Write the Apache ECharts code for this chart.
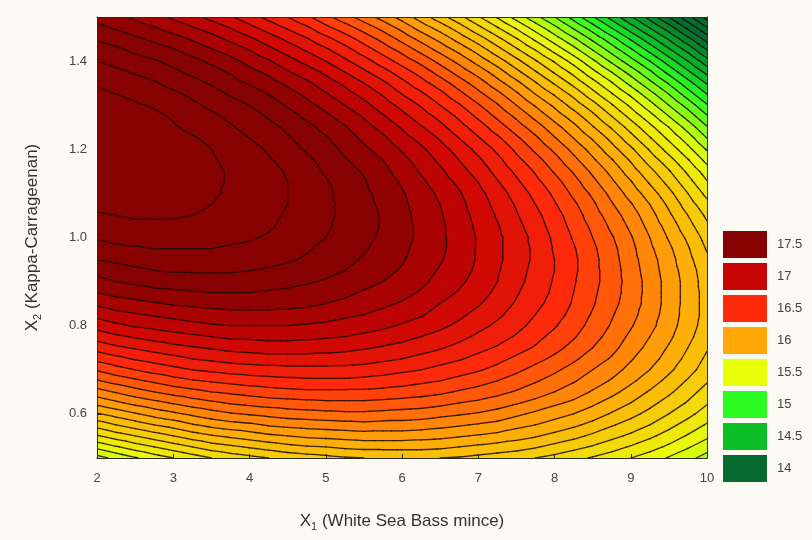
<!DOCTYPE html>
<html>
<head>
<meta charset="utf-8">
<title>Contour plot</title>
<script src="https://cdn.jsdelivr.net/npm/echarts@6/dist/echarts.min.js"></script>
<style>
  html, body { margin: 0; padding: 0; background: #fcfaf2; }
  #chart { width: 812px; height: 540px; }
</style>
</head>
<body>
<div id="chart"></div>
<script>
const xValues = [2, 2.25, 2.5, 2.75, 3, 3.25, 3.5, 3.75, 4, 4.25, 4.5, 4.75, 5, 5.25, 5.5, 5.75, 6,
  6.25, 6.5, 6.75, 7, 7.25, 7.5, 7.75, 8, 8.25, 8.5, 8.75, 9, 9.25, 9.5, 9.75, 10]
const yValues = [0.5, 0.525, 0.55, 0.575, 0.6, 0.625, 0.65, 0.675, 0.7, 0.725, 0.75, 0.775, 0.8, 0.825,
  0.85, 0.875, 0.9, 0.925, 0.95, 0.975, 1.0, 1.025, 1.05, 1.075, 1.1, 1.125, 1.15, 1.175, 1.2, 1.225,
  1.25, 1.275, 1.3, 1.325, 1.35, 1.375, 1.4, 1.425, 1.45, 1.475, 1.5]
// one row per y value (bottom to top), one column per x value
const response = [
  [15.46, 15.53, 15.59, 15.65, 15.70, 15.75, 15.80, 15.84, 15.87, 15.90, 15.93, 15.95, 15.97, 15.99, 16.00, 16.01, 16.01, 16.01, 16.00, 15.99, 15.97, 15.95, 15.93, 15.90, 15.87, 15.83, 15.79, 15.75, 15.70, 15.65, 15.59, 15.53, 15.46],
  [15.63, 15.69, 15.75, 15.80, 15.85, 15.90, 15.95, 15.98, 16.01, 16.04, 16.07, 16.09, 16.10, 16.12, 16.13, 16.13, 16.13, 16.13, 16.12, 16.10, 16.08, 16.06, 16.04, 16.01, 15.97, 15.93, 15.89, 15.84, 15.79, 15.74, 15.68, 15.61, 15.54],
  [15.79, 15.85, 15.90, 15.95, 16.00, 16.05, 16.09, 16.12, 16.15, 16.18, 16.20, 16.22, 16.23, 16.24, 16.25, 16.25, 16.25, 16.24, 16.23, 16.21, 16.19, 16.17, 16.14, 16.11, 16.07, 16.03, 15.98, 15.93, 15.88, 15.82, 15.76, 15.69, 15.62],
  [15.94, 16.00, 16.05, 16.10, 16.14, 16.19, 16.23, 16.26, 16.28, 16.31, 16.33, 16.34, 16.35, 16.36, 16.37, 16.36, 16.36, 16.35, 16.33, 16.31, 16.29, 16.27, 16.23, 16.20, 16.16, 16.12, 16.07, 16.01, 15.96, 15.90, 15.83, 15.76, 15.69],
  [16.09, 16.14, 16.19, 16.24, 16.28, 16.32, 16.36, 16.39, 16.41, 16.43, 16.45, 16.46, 16.47, 16.48, 16.48, 16.47, 16.46, 16.45, 16.43, 16.41, 16.39, 16.36, 16.32, 16.28, 16.24, 16.20, 16.15, 16.09, 16.03, 15.97, 15.90, 15.83, 15.75],
  [16.23, 16.28, 16.33, 16.37, 16.41, 16.45, 16.48, 16.51, 16.53, 16.55, 16.56, 16.57, 16.58, 16.58, 16.58, 16.57, 16.56, 16.55, 16.53, 16.50, 16.48, 16.45, 16.41, 16.37, 16.32, 16.28, 16.22, 16.16, 16.10, 16.03, 15.96, 15.89, 15.81],
  [16.36, 16.41, 16.46, 16.50, 16.54, 16.57, 16.60, 16.62, 16.64, 16.66, 16.67, 16.68, 16.68, 16.68, 16.68, 16.67, 16.66, 16.64, 16.62, 16.59, 16.56, 16.53, 16.49, 16.45, 16.40, 16.35, 16.29, 16.23, 16.16, 16.09, 16.02, 15.94, 15.86],
  [16.49, 16.54, 16.58, 16.62, 16.66, 16.69, 16.71, 16.73, 16.75, 16.76, 16.77, 16.78, 16.78, 16.78, 16.77, 16.76, 16.74, 16.72, 16.70, 16.67, 16.64, 16.60, 16.56, 16.51, 16.46, 16.41, 16.35, 16.29, 16.22, 16.15, 16.07, 15.99, 15.91],
  [16.61, 16.66, 16.70, 16.74, 16.77, 16.80, 16.82, 16.84, 16.85, 16.86, 16.87, 16.87, 16.87, 16.87, 16.86, 16.84, 16.82, 16.80, 16.77, 16.74, 16.71, 16.67, 16.62, 16.57, 16.52, 16.46, 16.40, 16.34, 16.27, 16.20, 16.12, 16.04, 15.95],
  [16.73, 16.77, 16.81, 16.84, 16.87, 16.90, 16.92, 16.94, 16.95, 16.96, 16.96, 16.96, 16.96, 16.95, 16.94, 16.92, 16.90, 16.87, 16.84, 16.81, 16.77, 16.73, 16.68, 16.63, 16.58, 16.52, 16.45, 16.39, 16.31, 16.24, 16.16, 16.07, 15.98],
  [16.84, 16.88, 16.91, 16.94, 16.97, 16.99, 17.01, 17.03, 17.04, 17.05, 17.05, 17.05, 17.04, 17.03, 17.01, 16.99, 16.97, 16.94, 16.91, 16.87, 16.83, 16.79, 16.74, 16.69, 16.63, 16.57, 16.50, 16.43, 16.35, 16.27, 16.19, 16.10, 16.01],
  [16.94, 16.98, 17.01, 17.04, 17.06, 17.08, 17.10, 17.12, 17.12, 17.13, 17.13, 17.12, 17.11, 17.10, 17.08, 17.06, 17.03, 17.00, 16.97, 16.93, 16.88, 16.84, 16.79, 16.73, 16.67, 16.61, 16.54, 16.46, 16.38, 16.30, 16.22, 16.13, 16.03],
  [17.04, 17.08, 17.11, 17.13, 17.15, 17.17, 17.19, 17.20, 17.20, 17.20, 17.20, 17.19, 17.18, 17.16, 17.14, 17.12, 17.09, 17.06, 17.02, 16.98, 16.93, 16.88, 16.83, 16.77, 16.71, 16.64, 16.57, 16.49, 16.41, 16.33, 16.24, 16.15, 16.05],
  [17.13, 17.17, 17.19, 17.21, 17.23, 17.25, 17.26, 17.27, 17.27, 17.27, 17.27, 17.26, 17.24, 17.22, 17.20, 17.17, 17.14, 17.11, 17.06, 17.02, 16.97, 16.92, 16.86, 16.80, 16.74, 16.67, 16.59, 16.51, 16.43, 16.35, 16.25, 16.16, 16.06],
  [17.22, 17.25, 17.27, 17.29, 17.31, 17.32, 17.33, 17.34, 17.34, 17.34, 17.33, 17.32, 17.30, 17.28, 17.25, 17.22, 17.19, 17.15, 17.10, 17.06, 17.01, 16.95, 16.89, 16.83, 16.76, 16.69, 16.61, 16.53, 16.45, 16.36, 16.26, 16.16, 16.06],
  [17.30, 17.33, 17.35, 17.37, 17.38, 17.39, 17.40, 17.40, 17.40, 17.39, 17.38, 17.37, 17.35, 17.32, 17.29, 17.26, 17.23, 17.19, 17.14, 17.09, 17.04, 16.98, 16.91, 16.85, 16.78, 16.70, 16.62, 16.54, 16.46, 16.36, 16.26, 16.16, 16.06],
  [17.37, 17.40, 17.42, 17.44, 17.45, 17.46, 17.46, 17.46, 17.45, 17.44, 17.43, 17.41, 17.39, 17.36, 17.33, 17.30, 17.26, 17.22, 17.17, 17.12, 17.06, 17.00, 16.93, 16.86, 16.79, 16.71, 16.63, 16.55, 16.46, 16.36, 16.26, 16.16, 16.05],
  [17.44, 17.46, 17.48, 17.50, 17.51, 17.51, 17.51, 17.51, 17.50, 17.49, 17.47, 17.45, 17.43, 17.40, 17.36, 17.33, 17.29, 17.24, 17.19, 17.14, 17.08, 17.01, 16.94, 16.87, 16.80, 16.72, 16.63, 16.55, 16.45, 16.35, 16.25, 16.15, 16.04],
  [17.50, 17.52, 17.54, 17.55, 17.56, 17.56, 17.56, 17.55, 17.54, 17.53, 17.51, 17.49, 17.46, 17.43, 17.39, 17.35, 17.31, 17.26, 17.21, 17.15, 17.09, 17.02, 16.95, 16.88, 16.80, 16.72, 16.63, 16.54, 16.44, 16.34, 16.24, 16.13, 16.02],
  [17.56, 17.58, 17.59, 17.60, 17.60, 17.60, 17.60, 17.59, 17.58, 17.56, 17.54, 17.51, 17.48, 17.45, 17.41, 17.37, 17.32, 17.27, 17.22, 17.16, 17.09, 17.02, 16.95, 16.88, 16.79, 16.71, 16.62, 16.53, 16.43, 16.32, 16.22, 16.11, 15.99],
  [17.61, 17.63, 17.64, 17.64, 17.64, 17.64, 17.63, 17.62, 17.61, 17.59, 17.56, 17.53, 17.50, 17.47, 17.43, 17.38, 17.33, 17.28, 17.22, 17.16, 17.09, 17.02, 16.95, 16.87, 16.78, 16.69, 16.60, 16.51, 16.41, 16.30, 16.19, 16.08, 15.96],
  [17.65, 17.67, 17.68, 17.68, 17.68, 17.67, 17.66, 17.65, 17.63, 17.61, 17.58, 17.55, 17.51, 17.48, 17.44, 17.39, 17.33, 17.28, 17.22, 17.15, 17.08, 17.01, 16.93, 16.85, 16.76, 16.67, 16.58, 16.48, 16.38, 16.27, 16.16, 16.04, 15.92],
  [17.69, 17.70, 17.71, 17.71, 17.71, 17.70, 17.69, 17.67, 17.65, 17.62, 17.59, 17.56, 17.52, 17.48, 17.44, 17.39, 17.33, 17.27, 17.21, 17.14, 17.07, 16.99, 16.91, 16.83, 16.74, 16.65, 16.55, 16.45, 16.35, 16.24, 16.12, 16.00, 15.88],
  [17.72, 17.73, 17.74, 17.73, 17.73, 17.72, 17.70, 17.68, 17.66, 17.63, 17.60, 17.56, 17.52, 17.48, 17.43, 17.38, 17.32, 17.26, 17.20, 17.13, 17.05, 16.97, 16.89, 16.80, 16.71, 16.62, 16.52, 16.41, 16.31, 16.20, 16.08, 15.95, 15.83],
  [17.75, 17.76, 17.76, 17.75, 17.74, 17.73, 17.71, 17.69, 17.67, 17.64, 17.60, 17.56, 17.52, 17.47, 17.42, 17.37, 17.31, 17.25, 17.18, 17.11, 17.03, 16.95, 16.86, 16.77, 16.68, 16.58, 16.48, 16.37, 16.26, 16.15, 16.03, 15.90, 15.77],
  [17.77, 17.78, 17.77, 17.76, 17.75, 17.74, 17.72, 17.69, 17.67, 17.64, 17.60, 17.55, 17.51, 17.46, 17.41, 17.35, 17.29, 17.22, 17.15, 17.08, 17.00, 16.91, 16.82, 16.73, 16.64, 16.54, 16.43, 16.32, 16.21, 16.09, 15.97, 15.84, 15.71],
  [17.79, 17.79, 17.78, 17.77, 17.76, 17.74, 17.72, 17.69, 17.66, 17.63, 17.59, 17.54, 17.49, 17.44, 17.39, 17.33, 17.26, 17.19, 17.12, 17.04, 16.96, 16.87, 16.78, 16.69, 16.59, 16.49, 16.38, 16.27, 16.15, 16.03, 15.91, 15.78, 15.65],
  [17.80, 17.79, 17.78, 17.77, 17.76, 17.74, 17.71, 17.68, 17.65, 17.61, 17.57, 17.52, 17.47, 17.41, 17.36, 17.30, 17.23, 17.16, 17.08, 17.00, 16.92, 16.83, 16.73, 16.64, 16.54, 16.43, 16.32, 16.21, 16.09, 15.96, 15.84, 15.71, 15.57],
  [17.80, 17.79, 17.78, 17.77, 17.75, 17.73, 17.70, 17.67, 17.63, 17.59, 17.54, 17.49, 17.44, 17.38, 17.32, 17.26, 17.19, 17.12, 17.04, 16.96, 16.87, 16.78, 16.68, 16.58, 16.48, 16.37, 16.26, 16.14, 16.02, 15.89, 15.76, 15.63, 15.49],
  [17.79, 17.78, 17.77, 17.76, 17.73, 17.71, 17.68, 17.64, 17.60, 17.56, 17.51, 17.46, 17.41, 17.35, 17.28, 17.22, 17.14, 17.07, 16.99, 16.90, 16.81, 16.72, 16.62, 16.52, 16.41, 16.30, 16.19, 16.07, 15.94, 15.81, 15.68, 15.55, 15.40],
  [17.78, 17.77, 17.76, 17.74, 17.71, 17.68, 17.65, 17.61, 17.57, 17.53, 17.48, 17.43, 17.37, 17.31, 17.24, 17.17, 17.09, 17.01, 16.93, 16.84, 16.75, 16.65, 16.55, 16.45, 16.34, 16.23, 16.11, 15.99, 15.86, 15.73, 15.60, 15.46, 15.31],
  [17.77, 17.75, 17.74, 17.72, 17.69, 17.65, 17.62, 17.58, 17.54, 17.49, 17.44, 17.38, 17.32, 17.26, 17.19, 17.11, 17.03, 16.95, 16.87, 16.78, 16.68, 16.58, 16.48, 16.37, 16.26, 16.15, 16.03, 15.90, 15.77, 15.64, 15.50, 15.36, 15.21],
  [17.75, 17.73, 17.71, 17.69, 17.66, 17.62, 17.58, 17.54, 17.50, 17.45, 17.39, 17.33, 17.27, 17.20, 17.13, 17.05, 16.97, 16.89, 16.80, 16.71, 16.61, 16.51, 16.40, 16.29, 16.18, 16.06, 15.94, 15.81, 15.68, 15.54, 15.40, 15.26, 15.11],
  [17.72, 17.70, 17.68, 17.65, 17.62, 17.58, 17.54, 17.49, 17.45, 17.40, 17.34, 17.28, 17.21, 17.14, 17.07, 16.99, 16.90, 16.82, 16.73, 16.63, 16.53, 16.43, 16.32, 16.20, 16.09, 15.97, 15.84, 15.71, 15.58, 15.44, 15.30, 15.15, 15.00],
  [17.69, 17.67, 17.64, 17.61, 17.57, 17.53, 17.49, 17.44, 17.39, 17.34, 17.28, 17.22, 17.15, 17.08, 17.00, 16.92, 16.83, 16.74, 16.65, 16.55, 16.45, 16.34, 16.23, 16.11, 15.99, 15.87, 15.74, 15.61, 15.47, 15.33, 15.19, 15.04, 14.89],
  [17.65, 17.62, 17.59, 17.56, 17.52, 17.48, 17.44, 17.39, 17.33, 17.28, 17.21, 17.15, 17.08, 17.00, 16.92, 16.84, 16.75, 16.66, 16.56, 16.46, 16.36, 16.25, 16.13, 16.01, 15.89, 15.77, 15.63, 15.50, 15.36, 15.22, 15.07, 14.92, 14.77],
  [17.60, 17.57, 17.54, 17.51, 17.47, 17.43, 17.38, 17.33, 17.27, 17.21, 17.14, 17.07, 17.00, 16.92, 16.84, 16.75, 16.66, 16.57, 16.47, 16.37, 16.26, 16.15, 16.03, 15.91, 15.79, 15.66, 15.52, 15.38, 15.24, 15.10, 14.95, 14.80, 14.64],
  [17.55, 17.52, 17.48, 17.45, 17.41, 17.36, 17.31, 17.26, 17.20, 17.13, 17.06, 16.99, 16.92, 16.84, 16.75, 16.66, 16.57, 16.47, 16.37, 16.27, 16.16, 16.04, 15.92, 15.80, 15.67, 15.54, 15.40, 15.26, 15.12, 14.97, 14.82, 14.67, 14.50],
  [17.49, 17.46, 17.42, 17.38, 17.34, 17.29, 17.24, 17.18, 17.12, 17.05, 16.98, 16.91, 16.83, 16.75, 16.66, 16.57, 16.47, 16.37, 16.27, 16.16, 16.05, 15.93, 15.81, 15.68, 15.55, 15.42, 15.28, 15.14, 14.99, 14.84, 14.69, 14.53, 14.36],
  [17.43, 17.39, 17.35, 17.31, 17.26, 17.21, 17.16, 17.10, 17.03, 16.96, 16.89, 16.82, 16.73, 16.65, 16.56, 16.47, 16.37, 16.26, 16.16, 16.05, 15.93, 15.81, 15.69, 15.56, 15.43, 15.29, 15.15, 15.00, 14.85, 14.70, 14.55, 14.38, 14.21],
  [17.36, 17.32, 17.28, 17.23, 17.18, 17.13, 17.07, 17.01, 16.94, 16.87, 16.80, 16.72, 16.63, 16.54, 16.45, 16.36, 16.26, 16.15, 16.04, 15.93, 15.81, 15.69, 15.56, 15.43, 15.30, 15.16, 15.01, 14.86, 14.71, 14.56, 14.40, 14.23, 14.06]
]
const contourLevels = [
  14.0, 14.1, 14.2, 14.3, 14.4, 14.5, 14.6, 14.7, 14.8, 14.9,
  15.0, 15.1, 15.2, 15.3, 15.4, 15.5, 15.6, 15.7, 15.8, 15.9,
  16.0, 16.1, 16.2, 16.3, 16.4, 16.5, 16.6, 16.7, 16.8, 16.9,
  17.0, 17.1, 17.2, 17.3, 17.4, 17.5, 17.6, 17.7
]
// colour scale: legend levels (low to high) and their colours
const legendLevels = [14, 14.5, 15, 15.5, 16, 16.5, 17, 17.5]
const legendLabels = ['14', '14.5', '15', '15.5', '16', '16.5', '17', '17.5']
const legendColors = ['#066b30', '#0cbf28', '#2cfb24', '#e8ff0a', '#ffa808', '#ff2a0c', '#c80404', '#870202']
// value at which each legend colour is reached inside the plot
const colorStops = [14.4, 14.85, 15.1, 15.6, 16.2, 16.75, 17.1, 17.4]
const xTicks = [2, 3, 4, 5, 6, 7, 8, 9, 10]
const yTicks = [0.6, 0.8, 1.0, 1.2, 1.4]

const FONT = "'Liberation Sans', Arial, sans-serif"

function hexToRgb (hex) {
  const n = parseInt(hex.slice(1), 16)
  return [(n >> 16) & 255, (n >> 8) & 255, n & 255]
}

// colour of a value, blended between the legend colours
function colorOf (v) {
  const last = colorStops.length - 1
  if (v <= colorStops[0]) return legendColors[0]
  if (v >= colorStops[last]) return legendColors[last]
  let k = 0
  while (v > colorStops[k + 1]) k++
  const t = (v - colorStops[k]) / (colorStops[k + 1] - colorStops[k])
  const a = hexToRgb(legendColors[k])
  const b = hexToRgb(legendColors[k + 1])
  const c = a.map((x, m) => Math.round(x + (b[m] - x) * t))
  return 'rgb(' + c.join(',') + ')'
}

function bandColor (b) {
  const n = contourLevels.length
  if (b === 0) return colorOf(contourLevels[0] - 0.05)
  if (b === n) return colorOf(contourLevels[n - 1] + 0.05)
  return colorOf((contourLevels[b - 1] + contourLevels[b]) / 2)
}

// keep the part of a polygon above (or below) a level, z is linear along edges
function clip (pts, t, keepAbove) {
  const out = []
  const inside = p => keepAbove ? p.z >= t : p.z < t
  for (let k = 0; k < pts.length; k++) {
    const a = pts[k]
    const b = pts[(k + 1) % pts.length]
    const ina = inside(a)
    const inb = inside(b)
    if (ina) out.push(a)
    if (ina !== inb) {
      const f = (t - a.z) / (b.z - a.z)
      out.push({ x: a.x + f * (b.x - a.x), y: a.y + f * (b.y - a.y), z: t })
    }
  }
  return out
}

function cellTriangles (api) {
  const i = api.value(2)
  const j = api.value(3)
  const corner = (a, b) => {
    const p = api.coord([xValues[a], yValues[b]])
    return { x: p[0], y: p[1], z: response[b][a] }
  }
  const p00 = corner(i, j)
  const p10 = corner(i + 1, j)
  const p11 = corner(i + 1, j + 1)
  const p01 = corner(i, j + 1)
  return [[p00, p10, p11], [p00, p11, p01]]
}

function renderFill (params, api) {
  const children = []
  cellTriangles(api).forEach(tri => {
    const zs = tri.map(p => p.z)
    const lo = Math.min(...zs)
    const hi = Math.max(...zs)
    for (let b = 0; b <= contourLevels.length; b++) {
      const bandLo = b === 0 ? -Infinity : contourLevels[b - 1]
      const bandHi = b === contourLevels.length ? Infinity : contourLevels[b]
      if (bandHi <= lo || bandLo > hi) continue
      let poly = tri
      if (bandLo > -Infinity) poly = clip(poly, bandLo, true)
      if (bandHi < Infinity) poly = clip(poly, bandHi, false)
      if (poly.length < 3) continue
      const color = bandColor(b)
      children.push({
        type: 'polygon',
        shape: { points: poly.map(p => [p.x, p.y]) },
        style: { fill: color, stroke: color, lineWidth: 1.5, lineJoin: 'round' }
      })
    }
  })
  return { type: 'group', children }
}

function renderLines (params, api) {
  const children = []
  cellTriangles(api).forEach(tri => {
    contourLevels.forEach(level => {
      const pts = []
      for (let k = 0; k < 3; k++) {
        const a = tri[k]
        const b = tri[(k + 1) % 3]
        if ((a.z >= level) !== (b.z >= level)) {
          const f = (level - a.z) / (b.z - a.z)
          pts.push([a.x + f * (b.x - a.x), a.y + f * (b.y - a.y)])
        }
      }
      if (pts.length === 2) {
        children.push({
          type: 'line',
          shape: { x1: pts[0][0], y1: pts[0][1], x2: pts[1][0], y2: pts[1][1] },
          style: { stroke: 'rgba(28, 12, 6, 0.85)', lineWidth: 1.3, lineCap: 'round' }
        })
      }
    })
  })
  return { type: 'group', children }
}

const cells = []
for (let j = 0; j < yValues.length - 1; j++) {
  for (let i = 0; i < xValues.length - 1; i++) {
    cells.push([(xValues[i] + xValues[i + 1]) / 2, (yValues[j] + yValues[j + 1]) / 2, i, j])
  }
}

const axisLineStyle = { color: '#2b2b2b', width: 1 }
const labelStyle = { color: '#444', fontSize: 13, fontFamily: FONT }
const nameRich = {
  main: { fontSize: 17, fontFamily: FONT, color: '#333', lineHeight: 22 },
  sub: { fontSize: 11, fontFamily: FONT, color: '#333', lineHeight: 12, verticalAlign: 'bottom' }
}

const chart = echarts.init(document.getElementById('chart'), null, { renderer: 'canvas' })
chart.setOption({
  backgroundColor: '#fcfaf2',
  animation: false,
  grid: { left: 97, right: 105, top: 17, bottom: 82 },
  xAxis: [
    {
      type: 'value',
      min: 2,
      max: 10,
      z: 5,
      axisLine: { show: true, onZero: false, lineStyle: axisLineStyle },
      axisTick: { show: true, inside: true, length: 4, customValues: xTicks, lineStyle: axisLineStyle },
      axisLabel: Object.assign({ customValues: xTicks, margin: 14 }, labelStyle),
      splitLine: { show: false },
      name: '{main|X}{sub|1}{main| (White Sea Bass mince)}',
      nameLocation: 'middle',
      nameGap: 52,
      nameTextStyle: { rich: nameRich }
    },
    {
      type: 'value',
      min: 2,
      max: 10,
      position: 'top',
      z: 5,
      axisLine: { show: true, onZero: false, lineStyle: axisLineStyle },
      axisTick: { show: false },
      axisLabel: { show: false },
      splitLine: { show: false }
    }
  ],
  yAxis: [
    {
      type: 'value',
      min: 0.5,
      max: 1.5,
      z: 5,
      axisLine: { show: true, onZero: false, lineStyle: axisLineStyle },
      axisTick: { show: true, inside: true, length: 4, customValues: yTicks, lineStyle: axisLineStyle },
      axisLabel: Object.assign({ customValues: yTicks, margin: 10, formatter: v => v.toFixed(1) }, labelStyle),
      splitLine: { show: false },
      name: '{main|X}{sub|2}{main| (Kappa-Carrageenan)}',
      nameLocation: 'middle',
      nameGap: 54,
      nameTextStyle: { rich: nameRich }
    },
    {
      type: 'value',
      min: 0.5,
      max: 1.5,
      position: 'right',
      z: 5,
      axisLine: { show: true, onZero: false, lineStyle: axisLineStyle },
      axisTick: { show: false },
      axisLabel: { show: false },
      splitLine: { show: false }
    }
  ],
  visualMap: {
    type: 'piecewise',
    seriesIndex: [],
    orient: 'vertical',
    align: 'left',
    left: 723,
    top: 231,
    padding: 0,
    itemWidth: 44,
    itemHeight: 27,
    itemGap: 5,
    textGap: 10,
    itemSymbol: 'rect',
    selectedMode: false,
    pieces: legendLevels.map((v, k) => ({ value: v, label: legendLabels[k], color: legendColors[k] })),
    textStyle: labelStyle
  },
  series: [
    {
      type: 'custom',
      name: 'fill',
      silent: true,
      clip: true,
      renderItem: renderFill,
      encode: { x: 0, y: 1 },
      data: cells,
      z: 2
    },
    {
      type: 'custom',
      name: 'contours',
      silent: true,
      clip: true,
      renderItem: renderLines,
      encode: { x: 0, y: 1 },
      data: cells,
      z: 3
    }
  ]
})
</script>
</body>
</html>
